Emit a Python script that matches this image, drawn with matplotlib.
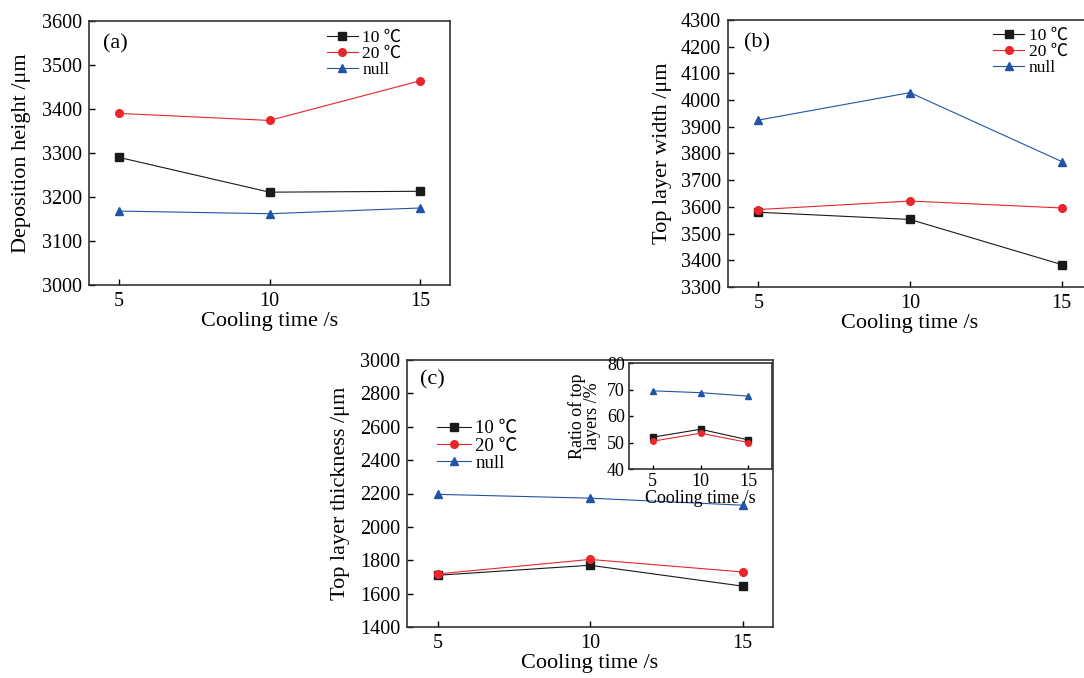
import matplotlib
matplotlib.use("Agg")
import matplotlib.pyplot as plt

plt.rcParams["font.family"] = ["Liberation Serif", "Noto Sans CJK SC", "DejaVu Sans"]
plt.rcParams["mathtext.fontset"] = "stix"

# 数据
cooling_time = [5, 10, 15]
series_labels = ["10 ℃", "20 ℃", "null"]

height_10 = [3290, 3211, 3213]
height_20 = [3390, 3374, 3464]
height_null = [3168, 3162, 3175]

width_10 = [3580, 3553, 3384]
width_20 = [3590, 3622, 3596]
width_null = [3925, 4028, 3770]

thick_10 = [1710, 1770, 1645]
thick_20 = [1718, 1805, 1730]
thick_null = [2195, 2172, 2130]

ratio_10 = [52.0, 55.0, 51.0]
ratio_20 = [50.5, 53.5, 50.0]
ratio_null = [69.5, 68.8, 67.5]

colors = ["#1a1a1a", "#e8262b", "#2353a6"]
markers = ["s", "o", "^"]

W, H = 1084, 678
fig = plt.figure(figsize=(W / 100, H / 100), dpi=100)


def px_axes(left, top, right, bottom):
    return fig.add_axes([left / W, 1 - bottom / H, (right - left) / W, (bottom - top) / H])


def style(ax, fs=14.5, pad=5):
    ax.tick_params(direction="in", length=4, width=1, labelsize=fs, pad=pad)
    for s in ax.spines.values():
        s.set_linewidth(1.2)
        s.set_color("#333333")


def draw(ax, ys, ms=5.5, lw=0.8):
    for y, c, m, lab in zip(ys, colors, markers, series_labels):
        ax.plot(cooling_time, y, color=c, marker=m, ms=ms, lw=lw, label=lab)


def add_legend(ax, x, y, fs):
    ax.legend(loc="center left", bbox_to_anchor=(x, y), frameon=False, fontsize=fs,
              handlelength=1.8, handletextpad=0.25, labelspacing=0.0,
              borderpad=0, borderaxespad=0)


# (a)
ax1 = px_axes(89, 21, 450, 285)
draw(ax1, [height_10, height_20, height_null])
ax1.set_xlim(4, 16)
ax1.set_ylim(3000, 3600)
ax1.set_xticks(cooling_time)
ax1.set_yticks(range(3000, 3601, 100))
style(ax1)
ax1.set_xlabel("Cooling time /s", fontsize=16, labelpad=1)
ax1.set_ylabel("Deposition height /μm", fontsize=16, labelpad=8)
ax1.text(0.04, 0.915, "(a)", transform=ax1.transAxes, fontsize=16, va="center")
add_legend(ax1, 0.658, 0.875, 12.5)

# (b)
ax2 = px_axes(728, 20, 1092, 287)
draw(ax2, [width_10, width_20, width_null])
ax2.set_xlim(4, 16)
ax2.set_ylim(3300, 4300)
ax2.set_xticks(cooling_time)
ax2.set_yticks(range(3300, 4301, 100))
style(ax2)
ax2.set_xlabel("Cooling time /s", fontsize=16, labelpad=1)
ax2.set_ylabel("Top layer width /μm", fontsize=16, labelpad=6)
ax2.text(0.045, 0.915, "(b)", transform=ax2.transAxes, fontsize=16, va="center")
add_legend(ax2, 0.728, 0.88, 12.5)

# (c)
ax3 = px_axes(407, 360, 773, 627)
draw(ax3, [thick_10, thick_20, thick_null])
ax3.set_xlim(4, 16)
ax3.set_ylim(1400, 3000)
ax3.set_xticks(cooling_time)
ax3.set_yticks(range(1400, 3001, 200))
style(ax3)
ax3.set_xlabel("Cooling time /s", fontsize=16, labelpad=1)
ax3.set_ylabel("Top layer thickness /μm", fontsize=16, labelpad=7)
ax3.text(0.035, 0.925, "(c)", transform=ax3.transAxes, fontsize=16, va="center")
add_legend(ax3, 0.082, 0.678, 13.5)

# inset
ax4 = px_axes(629, 363, 772, 469)
draw(ax4, [ratio_10, ratio_20, ratio_null], ms=4, lw=0.8)
ax4.set_xlim(2.5, 17.5)
ax4.set_ylim(40, 80)
ax4.set_xticks(cooling_time)
ax4.set_yticks(range(40, 81, 10))
style(ax4, 13, 3)
ax4.tick_params(length=3)
ax4.set_xlabel("Cooling time /s", fontsize=13, labelpad=0)
ax4.set_ylabel("Ratio of top\nlayers /%", fontsize=13, labelpad=4, linespacing=0.85)

fig.savefig("out.png", dpi=100)
